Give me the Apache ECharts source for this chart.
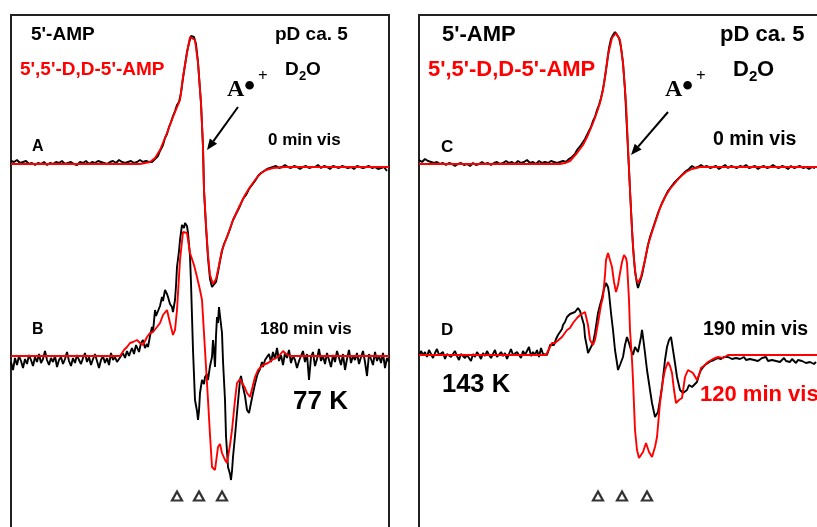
<!DOCTYPE html>
<html>
<head>
<meta charset="utf-8">
<script src="https://cdn.jsdelivr.net/npm/echarts@6/dist/echarts.min.js"></script>
<style>
html, body { margin: 0; padding: 0; background: #fff; }
#main { width: 817px; height: 527px; }
</style>
</head>
<body>
<div id="main"></div>
<script>
// field axis in arbitrary units (G), intensity in arbitrary units, baseline = 0
// noisy baselines are stored as evenly spaced readings: [start, step, values]

// ---- left panel, spectrum A (0 min vis)
const redA = [[0,1],[129,1],[139,3],[144,7],[149,15],[156,32],[162,48],[169,65],[172,88],[176,112],[179,128],[181,130],[184,125],[187,102],[190,62],[192,18],[193,-25],[195,-60],[197,-90],[199,-110],[202,-119],[205,-114],[207,-105],[211,-85],[216,-72],[222,-55],[229,-40],[234,-30],[239,-22],[244,-15],[249,-9],[255,-5],[262,-3],[274,-2],[378,-2]]
const blackA_base1 = [0, 3, [4,3,5,2,3,4,1,2,0,2,1,3,0,2,1,3,2,4,1,2,3,1,0,3,2,4,1,3,2,4,3,2,1,3,4,2,5,3,2,3,4,2,3,5,3,4,3]]
const blackA_peak = [[141,3],[144,6],[147,9],[149,14],[152,20],[154,27],[156,31],[158,38],[160,43],[162,49],[164,54],[166,60],[168,63],[170,72],[172,87],[174,100],[176,113],[178,122],[180,129],[181,131],[183,128],[185,121],[187,103],[189,75],[190,62],[192,18],[193,-25],[195,-62],[197,-93],[199,-114],[201,-122],[203,-124],[205,-117],[207,-107],[209,-96],[211,-86],[213,-79],[216,-72],[219,-64],[222,-55],[225,-49],[229,-41],[232,-34],[235,-30],[238,-24],[241,-20],[244,-16],[247,-11],[250,-8],[253,-6],[256,-4],[259,-3]]
const blackA_base2 = [262, 3, [-2,-1,-3,-2,0,-2,-3,-1,-2,-4,-2,-1,-3,-2,-2,0,-3,-1,-2,-4,-1,-2,-3,-1,-2,-3,-2,-4,-1,-2,-3,-2,-1,-3,-2,-4,-3,-2,-6]]

// ---- left panel, spectrum B (180 min vis)
const redB = [[0,0],[109,0],[113,6],[116,9],[119,13],[122,14],[126,16],[129,13],[132,11],[136,19],[139,23],[142,24],[146,29],[149,33],[152,41],[156,46],[159,33],[162,21],[164,26],[166,46],[169,96],[172,124],[174,126],[176,123],[179,103],[183,91],[186,79],[189,66],[191,56],[194,6],[197,-44],[199,-79],[201,-111],[204,-114],[207,-91],[209,-88],[211,-97],[214,-104],[216,-107],[219,-89],[221,-74],[224,-44],[226,-27],[229,-23],[231,-24],[234,-32],[236,-37],[239,-41],[242,-29],[244,-21],[247,-14],[252,-9],[257,-7],[261,-4],[265,-2],[268,0],[272,5],[275,2],[279,0],[378,0]]
const blackB_base1 = [0, 2, [-6,-14,-2,-9,0,-5,-12,-3,-8,1,-4,-10,-1,-6,2,-7,-3,5,-4,-9,-2,-6,0,-11,-4,-1,-8,-3,4,-5,-10,-2,-7,1,-4,-8,-2,3,-6,-1,-9,-3,2,-5,-12,-4,0,-7,-2,-9,3,-4,-1,-6,-3]]
const blackB_peak = [[110,-3],[112,3],[114,-2],[116,5],[118,0],[119,3],[121,8],[123,2],[125,11],[126,9],[128,4],[130,13],[132,16],[134,8],[136,12],[137,9],[139,20],[141,29],[142,24],[144,46],[145,40],[147,39],[149,50],[151,59],[152,55],[154,66],[156,62],[157,59],[159,52],[161,49],[162,44],[164,56],[165,70],[166,89],[168,105],[169,116],[171,131],[173,128],[174,133],[176,130],[177,123],[179,100],[180,73],[182,6],[184,-44],[186,-55],[187,-64],[188,-55],[189,-37],[191,-24],[193,-28],[194,-21],[196,-18],[197,-24],[199,-10],[201,-1],[202,16],[203,5],[204,-11],[205,20],[206,39],[207,33],[208,49],[209,40],[211,23],[212,-5],[214,-44],[215,-80],[217,-111],[219,-118],[220,-124],[221,-115],[222,-101],[224,-80],[226,-57],[228,-35],[229,-24],[230,-20],[232,-31],[234,-40],[236,-54],[238,-57],[240,-59],[242,-37],[244,-28],[246,-20],[247,-17],[249,-13],[251,-6],[252,-11],[254,-4],[256,-1]]
const blackB_base2 = [258, 2, [2,-6,4,-3,8,-5,1,-9,3,-2,6,-7,0,-4,-12,-5,-3,5,-6,2,-24,-1,4,-10,-3,7,-5,0,-8,3,-4,-11,1,-6,5,-2,-9,2,-14,-3,6,-7,0,-4,3,-8,-1,5,-6,-20,2,-3,-9,4,-5,0,-7,3,-12,-2,-6]]

// ---- right panel, spectrum C (0 min vis)
const redC = [[0,1],[141,1],[146,2],[151,4],[158,12],[164,20],[169,30],[174,42],[178,53],[181,62],[184,75],[186,88],[189,110],[193,127],[197,132],[201,125],[204,102],[207,62],[209,18],[211,-25],[213,-65],[215,-95],[217,-113],[219,-118],[222,-112],[226,-95],[229,-80],[233,-67],[237,-55],[241,-43],[246,-32],[251,-24],[256,-18],[261,-12],[267,-7],[273,-4],[281,-2],[398,-2]]
const blackC_base1 = [0, 3, [5,3,6,4,3,2,3,1,2,0,2,1,-1,1,2,0,1,-1,2,0,1,3,1,2,0,2,3,1,2,4,2,3,1,4,2,3,5,2,3,1,4,2,3,2,4,3,2]]
const blackC_peak = [[141,3],[144,4],[147,3],[150,6],[153,8],[156,11],[158,15],[160,16],[162,20],[164,23],[166,26],[168,30],[170,34],[172,38],[174,44],[176,48],[178,55],[180,60],[182,67],[184,76],[186,88],[188,102],[190,117],[192,126],[194,130],[196,133],[198,131],[200,127],[202,118],[204,102],[206,75],[208,35],[210,-5],[212,-45],[214,-82],[216,-106],[218,-119],[219,-123],[221,-121],[223,-110],[225,-100],[227,-90],[229,-80],[231,-72],[233,-66],[235,-60],[237,-54],[239,-48],[241,-43],[243,-38],[246,-32],[249,-26],[252,-22],[255,-18],[258,-15],[261,-12],[264,-9],[267,-6],[270,-4]]
const blackC_base2 = [273, 3, [-1,-3,-2,0,-2,-1,-3,-2,-1,-4,-2,0,-3,-1,-2,-3,-1,-2,0,-3,-2,-1,-4,-2,-1,-3,-2,0,-2,-3,-1,-2,-4,-1,-3,-2,-1,-3,-2,-4,-2,-3]]

// ---- right panel, spectrum D (190 min vis black, 120 min vis red)
const redD = [[0,0],[127,0],[128,-2],[133,12],[136,12],[138,10],[143,18],[148,25],[151,27],[154,32],[158,37],[161,40],[166,43],[169,30],[171,15],[174,10],[176,15],[179,32],[182,50],[184,58],[186,80],[187,95],[189,102],[191,100],[193,88],[195,73],[197,63],[199,70],[201,82],[203,93],[205,100],[207,97],[208,92],[210,55],[211,25],[213,-5],[214,-25],[216,-75],[218,-95],[220,-103],[222,-105],[224,-97],[227,-88],[230,-97],[233,-102],[236,-92],[238,-82],[241,-48],[244,-25],[246,-15],[249,-7],[251,-11],[253,-18],[255,-35],[257,-48],[260,-45],[263,-43],[266,-22],[269,-15],[271,-13],[274,-18],[278,-25],[280,-20],[282,-13],[286,-10],[289,-7],[294,-4],[299,-2],[304,-3],[309,0],[398,0]]
const blackD_base1 = [0, 2, [-1,4,0,3,-2,5,1,-3,2,6,0,-1,3,-4,1,2,-2,0,4,-1,-5,1,3,-3,0,2,-6,1,-2,3,0,-4,2,-1,4,0,-3,1,5,-2,0,3,-1,2,-4,1,6,0,-2,3,1,-3,4,0,2,8,-1,3,0,5,-2,7,1,3]]
const blackD_peak = [[128,0],[130,6],[131,10],[133,12],[135,10],[137,16],[139,20],[141,22],[143,26],[144,30],[146,33],[148,38],[149,40],[151,41],[153,40],[156,43],[157,45],[159,47],[161,44],[163,42],[165,30],[166,18],[168,8],[169,2],[171,6],[174,12],[176,22],[179,42],[181,50],[183,57],[185,66],[187,72],[189,68],[190,62],[192,42],[194,25],[196,5],[198,-8],[199,-15],[201,-10],[204,-2],[206,10],[208,18],[210,12],[212,5],[214,0],[216,8],[217,10],[219,3],[220,5],[222,18],[223,25],[224,18],[226,2],[228,-15],[231,-35],[233,-48],[236,-62],[238,-60],[239,-57],[241,-45],[243,-32],[246,-5],[248,8],[250,15],[252,18],[254,5],[256,-8],[258,-22],[261,-35],[264,-38],[266,-36],[268,-35],[270,-30],[273,-32],[275,-30],[278,-27],[280,-20],[282,-15],[284,-13],[286,-10],[289,-8],[292,-6],[295,-5],[299,-3],[302,-4],[305,-2],[307,-3]]
const blackD_base2 = [309, 2, [-2,-1,-4,-2,-3,-1,-4,-3,-2,-5,-3,-4,-2,-5,-3,-6,-4,-3,-5,-2,-6,-4,-5,-3,-6,-4,-7,-5,-3,-6,-5,-7,-4,-6,-8,-5,-7,-6,-4,-8,-6,-7,-5,-9,-7]]

// vertical offsets of the stacked spectra
const offsetA = 0, offsetB = -191
const offsetC = 0, offsetD = -190

// triangle markers under the lower spectra
const marksLeft = [166, 188, 211]
const marksRight = [179, 203, 228]
const markLevel = -331

function seg(s) {
    return s[2].map((v, i) => [s[0] + i * s[1], v])
}
function shift(pts, off) {
    return pts.map(p => [p[0], p[1] + off])
}

const blackA = seg(blackA_base1).concat(blackA_peak, seg(blackA_base2))
const blackB = seg(blackB_base1).concat(blackB_peak, seg(blackB_base2))
const blackC = seg(blackC_base1).concat(blackC_peak, seg(blackC_base2))
const blackD = seg(blackD_base1).concat(blackD_peak, seg(blackD_base2))

function trace(data, color, idx) {
    return {
        type: 'line',
        data: data,
        xAxisIndex: idx,
        yAxisIndex: idx,
        showSymbol: false,
        symbol: 'none',
        silent: true,
        lineStyle: { color: color, width: 1.9 },
        z: color === 'red' ? 3 : 2
    }
}
function marks(xs, idx) {
    return {
        type: 'scatter',
        data: xs.map(x => [x, markLevel]),
        xAxisIndex: idx,
        yAxisIndex: idx,
        symbol: 'triangle',
        symbolSize: [10, 9],
        silent: true,
        itemStyle: { color: '#fff', borderColor: '#000', borderWidth: 2.2 }
    }
}

const SANS = '"Liberation Sans", Arial, sans-serif'
const SERIF = '"Liberation Serif", "Times New Roman", serif'
function txt(t, x, y, size, color, family) {
    return {
        type: 'text', x: x, y: y, z: 10,
        style: {
            text: t, fill: color || '#000',
            font: 'bold ' + size + 'px ' + (family || SANS),
            verticalAlign: 'middle'
        }
    }
}
function arrow(x1, y1, x2, y2) {
    const dx = x2 - x1, dy = y2 - y1
    const len = Math.sqrt(dx * dx + dy * dy)
    const ux = dx / len, uy = dy / len
    const bx = x2 - 11 * ux, by = y2 - 11 * uy
    return [
        { type: 'line', z: 10, shape: { x1: x1, y1: y1, x2: bx, y2: by }, style: { stroke: '#000', lineWidth: 2 } },
        { type: 'polygon', z: 10, shape: { points: [[x2, y2], [bx - 4.5 * uy, by + 4.5 * ux], [bx + 4.5 * uy, by - 4.5 * ux]] }, style: { fill: '#000' } }
    ]
}
function frame(x, w) {
    return { type: 'rect', z: 1, shape: { x: x, y: 15, width: w, height: 600 }, style: { fill: null, stroke: '#222', lineWidth: 2 } }
}

const chart = echarts.init(document.getElementById('main'))
const option = {
    animation: false,
    backgroundColor: '#fff',
    grid: [
        { left: 11, top: 15, right: 428, bottom: 0 },
        { left: 419, top: 15, right: 0, bottom: 0 }
    ],
    xAxis: [
        { type: 'value', gridIndex: 0, min: 0, max: 378, show: false },
        { type: 'value', gridIndex: 1, min: 0, max: 398, show: false }
    ],
    yAxis: [
        { type: 'value', gridIndex: 0, min: -362, max: 150, show: false },
        { type: 'value', gridIndex: 1, min: -362, max: 150, show: false }
    ],
    series: [
        trace(shift(blackA, offsetA), '#000', 0),
        trace(shift(redA, offsetA), 'red', 0),
        trace(shift(blackB, offsetB), '#000', 0),
        trace(shift(redB, offsetB), 'red', 0),
        marks(marksLeft, 0),
        trace(shift(blackC, offsetC), '#000', 1),
        trace(shift(redC, offsetC), 'red', 1),
        trace(shift(blackD, offsetD), '#000', 1),
        trace(shift(redD, offsetD), 'red', 1),
        marks(marksRight, 1)
    ],
    graphic: [
        frame(11, 378),
        frame(419, 500),
        // left panel
        txt("5'-AMP", 31, 35, 19),
        txt("5',5'-D,D-5'-AMP", 20, 70, 19, 'red'),
        txt('pD ca. 5', 275, 35, 19),
        txt('D', 285, 70, 19), txt('2', 299, 76, 13), txt('O', 306, 70, 19),
        txt('A', 227, 90, 24, '#000', SERIF), txt('\u2022', 244, 88, 32, '#000', SERIF), txt('+', 258, 77, 17, '#000', SERIF),
        txt('A', 32, 147, 16),
        txt('0 min vis', 268, 140, 17),
        txt('B', 32, 330, 16),
        txt('180 min vis', 260, 329, 17),
        txt('77 K', 293, 402, 26),
        ...arrow(238, 107, 207, 150),
        // right panel
        txt("5'-AMP", 442, 35, 22),
        txt("5',5'-D,D-5'-AMP", 428, 70, 22, 'red'),
        txt('pD ca. 5', 720, 35, 22),
        txt('D', 733, 70, 22), txt('2', 749, 77, 15), txt('O', 757, 70, 22),
        txt('A', 665, 90, 24, '#000', SERIF), txt('\u2022', 682, 88, 32, '#000', SERIF), txt('+', 696, 77, 17, '#000', SERIF),
        txt('C', 441, 147, 17),
        txt('0 min vis', 713, 140, 19.5),
        txt('D', 441, 330, 17),
        txt('190 min vis', 703, 330, 19.5),
        txt('143 K', 442, 385, 25.5),
        txt('120 min vis', 700, 395, 22, 'red'),
        ...arrow(668, 112, 631, 155)
    ]
}
chart.setOption(option)
</script>
</body>
</html>
